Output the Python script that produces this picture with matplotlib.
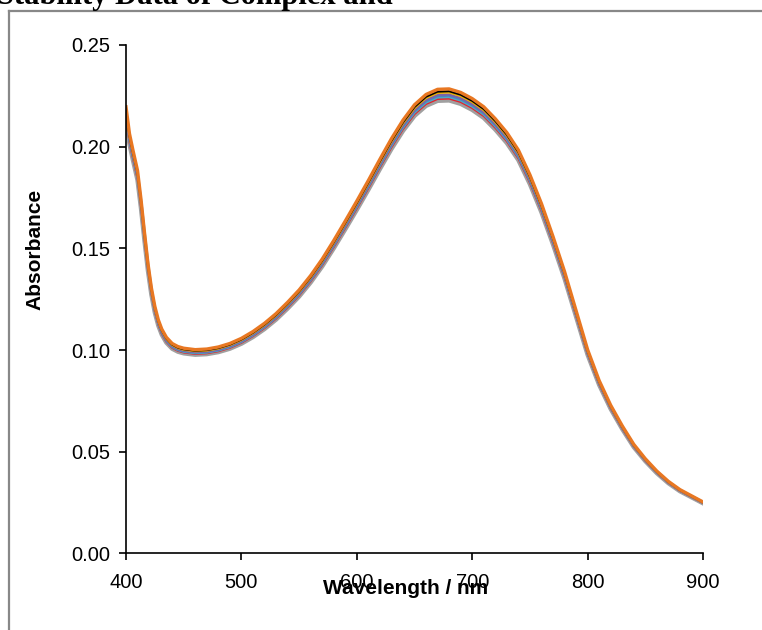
import numpy as np
import matplotlib
matplotlib.use("Agg")
from matplotlib import pyplot as plt
from matplotlib.lines import Line2D

# Espectro base
wavelength = [400, 403, 406, 410, 413, 416, 419, 422, 425, 428, 431, 435, 440,
              445, 450, 460, 470, 480, 490, 500, 510, 520, 530, 540, 550, 560,
              570, 580, 590, 600, 610, 620, 630, 640, 650, 660, 670, 680, 690,
              700, 710, 720, 730, 740, 750, 760, 770, 780, 790, 800, 810, 820,
              830, 840, 850, 860, 870, 880, 890, 900]
absorbance = [0.217, 0.204, 0.196, 0.186, 0.172, 0.156, 0.141, 0.129, 0.120,
              0.1135, 0.1090, 0.1050, 0.1020, 0.1005, 0.0997, 0.0990, 0.0993,
              0.1003, 0.1020, 0.1045, 0.1078, 0.1118, 0.1165, 0.1220, 0.1280,
              0.1350, 0.1430, 0.1520, 0.1615, 0.1712, 0.1812, 0.1915, 0.2015,
              0.2105, 0.2180, 0.2230, 0.2255, 0.2257, 0.2240, 0.2210, 0.2170,
              0.2112, 0.2045, 0.1960, 0.1840, 0.1700, 0.1540, 0.1370, 0.1180,
              0.0990, 0.0840, 0.0720, 0.0620, 0.0530, 0.0460, 0.0400, 0.0350,
              0.0310, 0.0280, 0.0250]

# cada medida (cor, fator relativo ao espectro base, espessura)
cores = ['#A0A0A0', '#E8202A', '#4BACC6', '#4F81BD', '#7F5FA8', '#E8B000', '#000000', '#E87722']
fatores = [0.987, 0.991, 0.994, 0.997, 1.000, 1.004, 1.007, 1.012]
espessuras = [3.2, 1.5, 1.5, 1.5, 1.5, 1.5, 1.5, 2.4]

fig = plt.figure(figsize=(7.62, 6.30), dpi=100)
ax = fig.add_axes([126/762, 1-553.4/630, 577/762, 508.4/630])

wl = np.array(wavelength)
ab = np.array(absorbance)
for c, f, lw in zip(cores, fatores, espessuras):
    ax.plot(wl, ab * f, color=c, lw=lw, solid_joinstyle='round')

ax.set_xlim(400, 900)
ax.set_ylim(0, 0.25)
ax.set_xticks([400, 500, 600, 700, 800, 900])
ax.set_yticks([0.00, 0.05, 0.10, 0.15, 0.20, 0.25])
ax.set_yticklabels(['0.00', '0.05', '0.10', '0.15', '0.20', '0.25'])
for s in ['top', 'right']:
    ax.spines[s].set_visible(False)
for s in ['left', 'bottom']:
    ax.spines[s].set_linewidth(1.2)
ax.tick_params(direction='out', length=5, width=1.2, labelsize=14.5)
ax.tick_params(axis='x', pad=9)
ax.tick_params(axis='y', pad=6)
for lab in ax.get_xticklabels() + ax.get_yticklabels():
    lab.set_family('Liberation Sans')

ax.set_xlabel('Wavelength / nm', fontsize=15, fontweight='bold', family='Liberation Sans')
ax.xaxis.set_label_coords(0.485, -0.070)
ax.xaxis.label.set_va('center')
ax.set_ylabel('Absorbance', fontsize=15, fontweight='bold', family='Liberation Sans')
ax.yaxis.set_label_coords(-0.158, 0.597)
ax.yaxis.label.set_va('center')

# moldura cinza (cortada a direita e embaixo)
fig.add_artist(Line2D([8.5/762, 8.5/762], [1-11/630, -0.1], color='#888888', lw=1.6))
fig.add_artist(Line2D([8.5/762, 1.1], [1-11/630, 1-11/630], color='#888888', lw=1.6))

# titulo cortado no topo
fig.text(-0.004, 1-4/630, 'Stability Data of Complex and', fontsize=22,
         fontweight='bold', family='Liberation Serif', va='baseline', ha='left')

fig.savefig('out.png', dpi=100)
